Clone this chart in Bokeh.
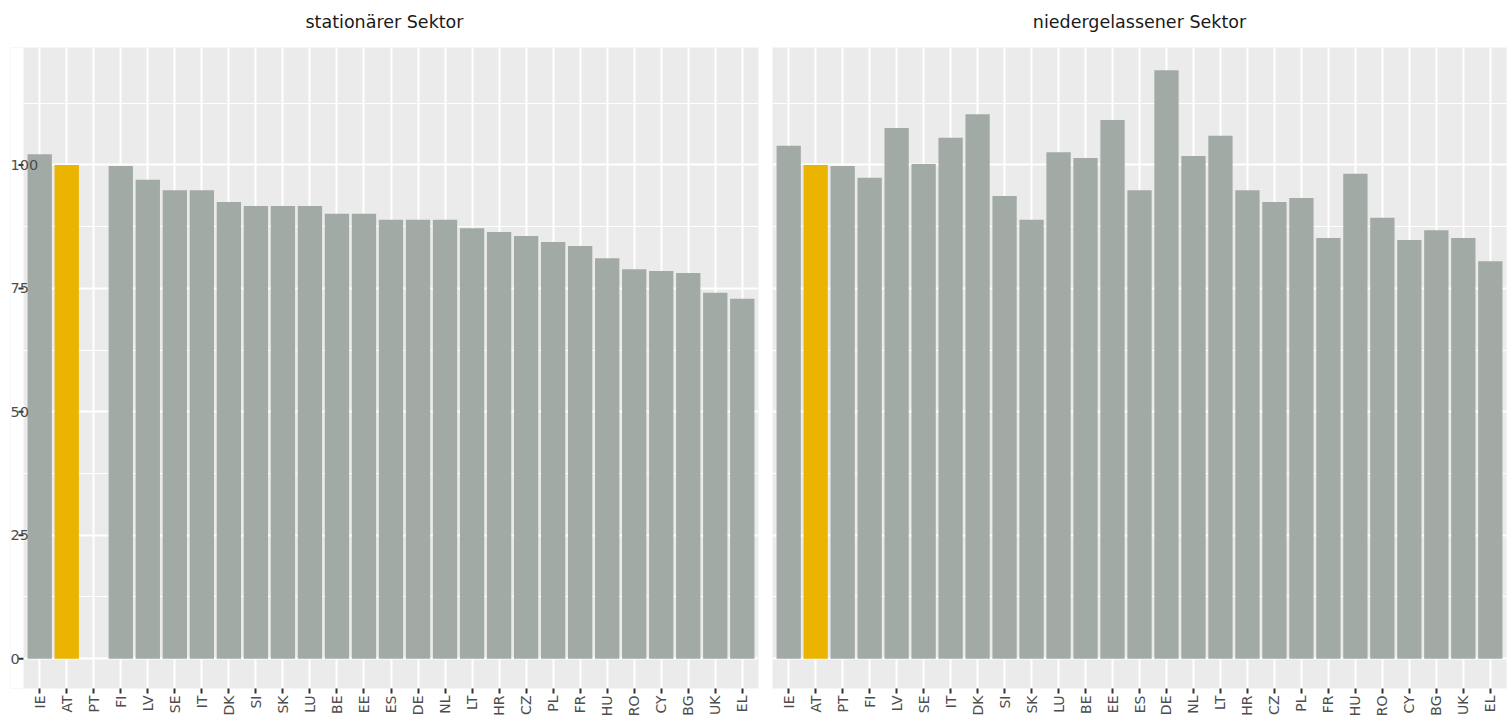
import math
from bokeh.plotting import figure
from bokeh.models import (ColumnDataSource, Range1d, SingleIntervalTicker, FixedTicker,
                          Label, BoxAnnotation, LinearAxis)
from bokeh.layouts import row
from bokeh.embed import file_html
from bokeh.resources import INLINE

# ---- data ----
countries = ["IE", "AT", "PT", "FI", "LV", "SE", "IT", "DK", "SI", "SK", "LU", "BE", "EE", "ES",
             "DE", "NL", "LT", "HR", "CZ", "PL", "FR", "HU", "RO", "CY", "BG", "UK", "EL"]
stationaer = [102.2, 100.0, None, 99.8, 97.0, 94.9, 94.9, 92.5, 91.7, 91.7, 91.7, 90.1, 90.1, 88.9,
              88.9, 88.9, 87.2, 86.4, 85.6, 84.4, 83.6, 81.1, 78.9, 78.5, 78.1, 74.1, 72.9]
niedergelassen = [103.9, 100.0, 99.8, 97.4, 107.5, 100.2, 105.5, 110.3, 93.7, 88.9, 102.6, 101.4, 109.1, 94.9,
                  119.2, 101.8, 105.9, 94.9, 92.5, 93.3, 85.2, 98.2, 89.3, 84.8, 86.8, 85.2, 80.5]
y_ticks = [0, 25, 50, 75, 100]
panel_titles = ["stationärer Sektor", "niedergelassener Sektor"]
highlight = "AT"

# ---- style ----
BAR = "#A2AAA5"
HL = "#EBB400"
PANEL = "#EBEBEB"
FONT = "DejaVu Sans"
TXT = "#4D4D4D"
TICK = "#333333"
PANEL_W = [735, 734]
FH = 641
LABEL_PAD = 13      # y labels start this many px left of the panel
TICK_LEN = 5
EXP = 0.6           # discrete axis expansion (ggplot style)

n = len(countries)
pos = list(range(n))
unit = PANEL_W[0] / (n - 1 + 2 * EXP)


def make_panel(idx, values, show_y):
    title = panel_titles[idx]
    colors = [HL if c == highlight else BAR for c in countries]
    vals = [float("nan") if v is None else v for v in values]
    src = ColumnDataSource(dict(pos=pos, value=vals, color=colors))

    x_start = -EXP - (LABEL_PAD / unit if show_y else 0)
    fw = PANEL_W[idx] + (LABEL_PAD if show_y else 0)
    p = figure(
        x_range=Range1d(x_start, n - 1 + EXP),
        y_range=Range1d(-6.05, 123.8),
        frame_width=fw, frame_height=FH,
        min_border_left=10 if show_y else 7,
        min_border_right=7 if show_y else 4,
        min_border_top=47, min_border_bottom=0,
        output_backend="svg", toolbar_location=None, title=None,
    )
    p.background_fill_color = PANEL
    p.border_fill_color = "white"
    p.outline_line_color = None

    yticker = SingleIntervalTicker(interval=25, num_minor_ticks=2)
    p.yaxis.ticker = yticker
    p.ygrid.ticker = yticker
    p.ygrid.grid_line_color = "white"
    p.ygrid.grid_line_width = 2
    p.ygrid.minor_grid_line_color = "white"
    p.ygrid.minor_grid_line_width = 1.2
    p.yaxis.visible = False

    xticker = FixedTicker(ticks=pos)
    xa = p.below[0]
    xa.ticker = xticker
    p.xgrid.ticker = xticker
    p.xgrid.grid_line_color = "white"
    p.xgrid.grid_line_width = 2

    xa.major_label_overrides = {i: c for i, c in zip(pos, countries)}
    xa.axis_line_color = None
    xa.major_tick_out = TICK_LEN
    xa.major_tick_in = 0
    xa.minor_tick_out = 0
    xa.minor_tick_in = 0
    xa.major_tick_line_color = TICK
    xa.major_tick_line_width = 2
    xa.major_label_orientation = math.pi / 2
    xa.major_label_standoff = 2
    xa.major_label_text_font = FONT
    xa.major_label_text_font_size = "14px"
    xa.major_label_text_color = TXT

    # facet strip title, drawn as the label of a bare axis above the panel
    strip = LinearAxis(ticker=FixedTicker(ticks=[]), bounds=(-EXP, n - 1 + EXP),
                       axis_label=title, axis_line_color=None,
                       major_tick_line_color=None, minor_tick_line_color=None,
                       major_tick_out=0, minor_tick_out=0, major_tick_in=0, minor_tick_in=0,
                       major_label_standoff=0, axis_label_standoff=16,
                       axis_label_text_font=FONT, axis_label_text_font_size="17.5px",
                       axis_label_text_font_style="normal", axis_label_text_color="#1A1A1A")
    p.add_layout(strip, "above")

    if show_y:
        # white strip left of the panel, where the tick labels sit
        p.add_layout(BoxAnnotation(left=x_start, right=-EXP, fill_color="white", fill_alpha=1.0,
                                   line_color=None, level="underlay"))

    p.vbar(x="pos", top="value", width=0.9, source=src, fill_color="color", line_color=None)

    if show_y:
        p.segment(x0=[-EXP - TICK_LEN / unit] * len(y_ticks), x1=[-EXP] * len(y_ticks),
                  y0=y_ticks, y1=y_ticks, line_color=TICK, line_width=2)
        for v in y_ticks:
            p.add_layout(Label(x=x_start, y=v, text=str(v),
                               text_align="left", text_baseline="middle",
                               text_font=FONT, text_font_size="14.5px", text_color=TXT))
    return p


p1 = make_panel(0, stationaer, True)
p2 = make_panel(1, niedergelassen, False)
layout = row(p1, p2)

open("out.html", "w").write(file_html(layout, INLINE))
